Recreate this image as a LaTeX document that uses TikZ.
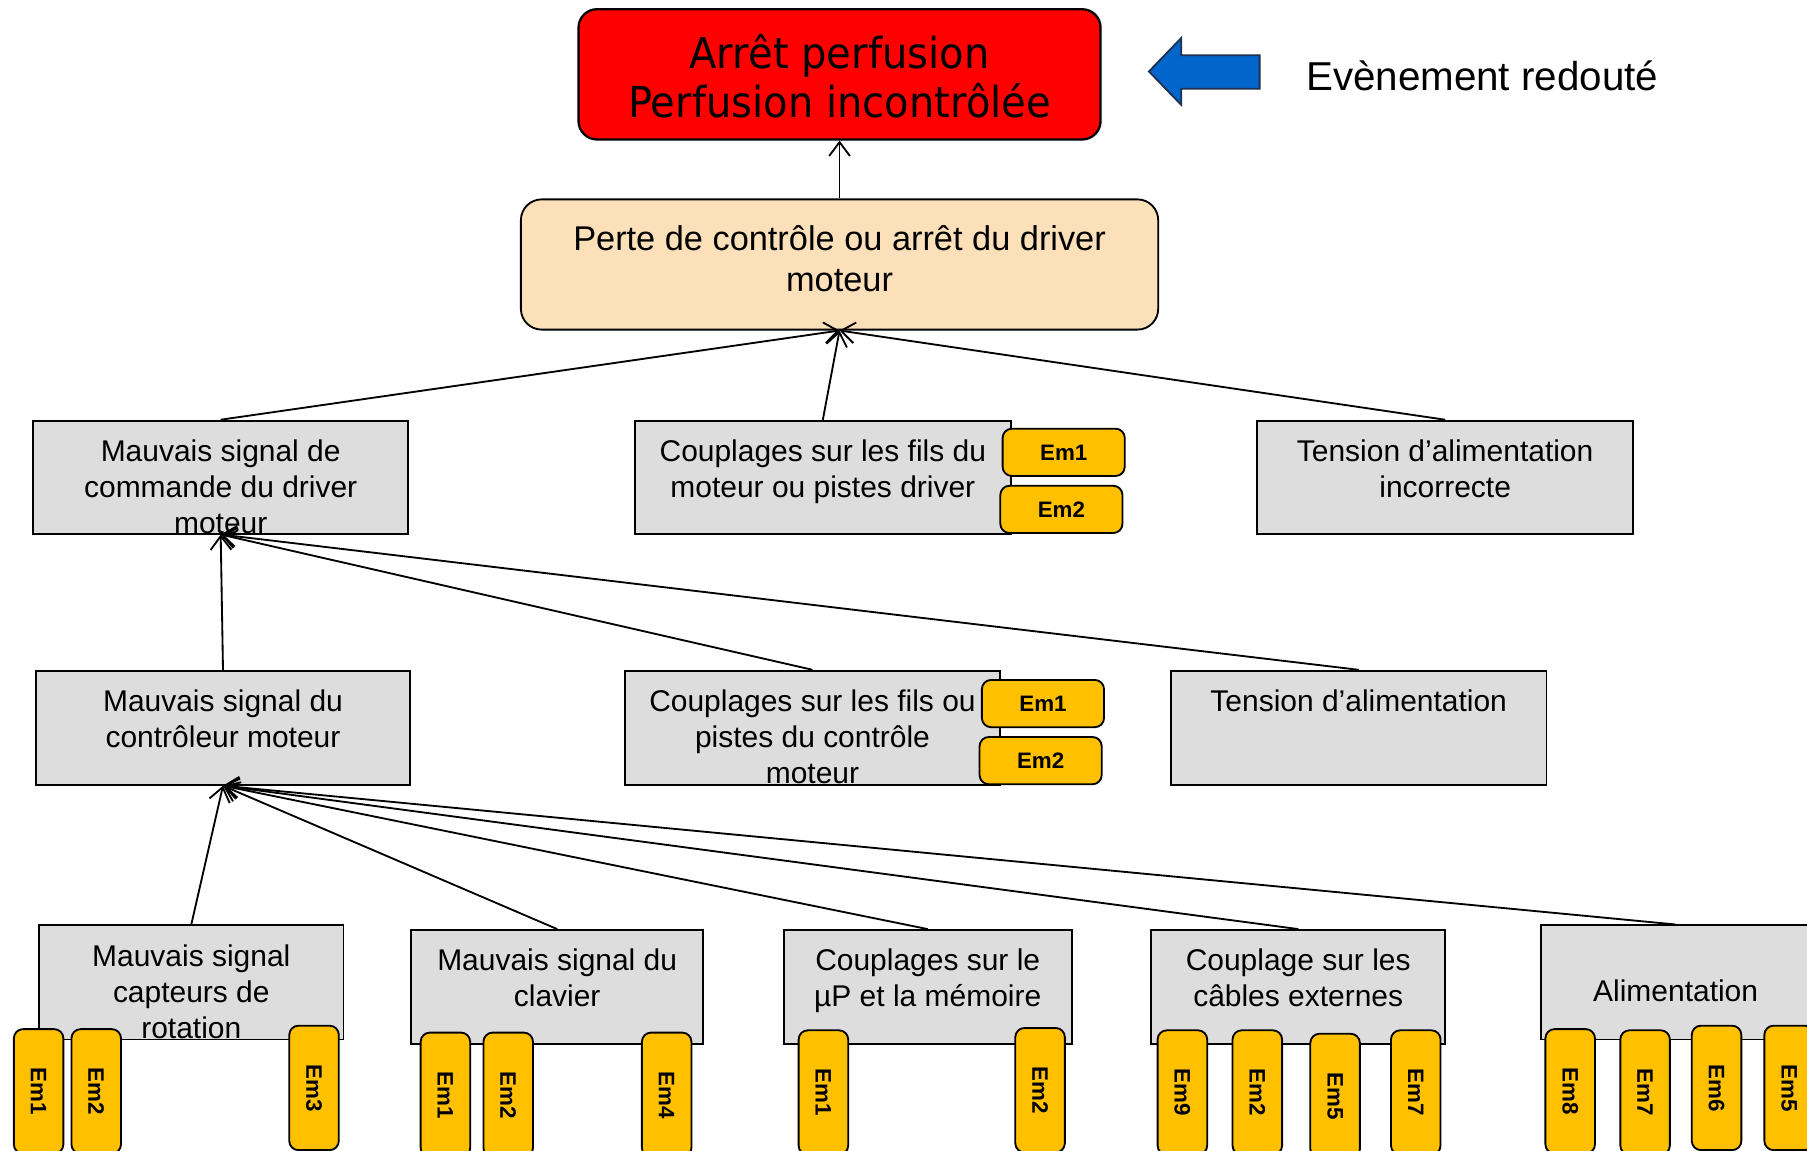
\documentclass[tikz,border=0pt]{standalone}
\usepackage{fontspec}
\setmainfont{Liberation Sans}
\newfontfamily\redfont[FakeStretch=0.94]{DejaVu Sans}
\usetikzlibrary{arrows.meta,fit}
\definecolor{gboxc}{HTML}{DDDDDD}
\definecolor{peach}{HTML}{FCE0BA}
\definecolor{emc}{HTML}{FFC000}
\definecolor{bluec}{HTML}{0066CC}
\definecolor{navy}{HTML}{1F3050}
\newcommand\emvbox[4]{\node[emv] (#1) at (#2,#3+54) {#4};}
\begin{document}
\begin{tikzpicture}[x=0.5pt,y=-0.5pt,
  gbox/.style={draw=black, line width=0.8pt, fill=gboxc, inner sep=0pt},
  gtext/.style={anchor=north, inner sep=0pt, align=center, font=\fontsize{13}{15.6}\selectfont},
  emh/.style={draw=black, line width=0.8pt, fill=emc, rounded corners=4pt, inner sep=0pt, font=\fontsize{9.7}{11}\selectfont\bfseries},
  emhb/.style={emh, minimum width=53pt, minimum height=20.5pt},
  emv/.style={emh, rotate=-90, minimum width=54pt, minimum height=21.5pt},
  arr/.style={line width=0.8pt, -{Straight Barb[length=6pt,width=9pt]}}]
\useasboundingbox (0,0) rectangle (1568,998);
\clip (0,0) rectangle (1568,998);
\fill[white] (0,0) rectangle (1568,998);

% top event
\node[draw=black, line width=1pt, fill=red, rounded corners=8pt, inner sep=0pt,
      fit={(502,8) (955,121)}] (R) {};
\node[inner sep=0pt, align=center, font=\redfont\fontsize{18.5}{21}\selectfont]
      (Rt) at ([yshift=-0.75pt]R.center) {Arrêt perfusion\\Perfusion incontrôlée};
\draw[line width=0.8pt, draw=navy, fill=bluec] (997,62) -- (1025,33) -- (1025,48) -- (1093,48)
   -- (1093,77) -- (1025,77) -- (1025,91) -- cycle;
\node[anchor=west, inner sep=0pt, font=\fontsize{17.5}{21}\selectfont] (ev) at (1133,66) {Evènement redouté};

% level 1
\node[draw=black, line width=0.8pt, fill=peach, rounded corners=9pt, inner sep=0pt,
      fit={(452,173) (1005,286)}] (P) {};
\node[inner sep=0pt, align=center, font=\fontsize{14.9}{17.8}\selectfont]
      (Pt) at ([yshift=2.5pt]P.center) {Perte de contrôle ou arrêt du driver\\moteur};

% level 2
\node[gbox, fit={(29,365) (354,463)}] (A) {};
\node[gtext] (At) at ([yshift=-8.5pt]A.north) {Mauvais signal de\\commande du driver\\moteur};
\node[gbox, fit={(551,365) (877,463)}] (B) {};
\node[gtext] (Bt) at ([yshift=-8.5pt]B.north) {Couplages sur les fils du\\moteur ou pistes driver};
\node[emhb] (B1) at (923,392.5) {Em1};
\node[emhb] (B2) at (921,442) {Em2};
\node[gbox, fit={(1091,365) (1417,463)}] (C) {};
\node[gtext] (Ct) at ([yshift=-8.5pt]C.north) {Tension d’alimentation\\incorrecte};

% level 3
\node[gbox, fit={(31,582) (356,681)}] (D) {};
\node[gtext] (Dt) at ([yshift=-8.5pt]D.north) {Mauvais signal du\\contrôleur moteur};
\node[gbox, fit={(542,582) (868,681)}] (E) {};
\node[gtext] (Et) at ([yshift=-8.5pt]E.north) {Couplages sur les fils ou\\pistes du contrôle\\moteur};
\node[emhb] (E1) at (905,610.5) {Em1};
\node[emhb] (E2) at (903,660) {Em2};
\node[gbox, fit={(1016,582) (1342,681)}] (F) {};
\node[gtext] (Ft) at ([yshift=-8.5pt]F.north) {Tension d’alimentation};

% level 4
\node[gbox, fit={(34,803) (298,902)}] (G) {};
\node[gtext] (Gt) at ([yshift=-8.5pt]G.north) {Mauvais signal\\capteurs de\\rotation};
\node[gbox, fit={(357,807) (610,906)}] (H) {};
\node[gtext] (Ht) at ([yshift=-8.5pt]H.north) {Mauvais signal du\\clavier};
\node[gbox, fit={(680,807) (930,906)}] (I) {};
\node[gtext] (It) at ([yshift=-8.5pt]I.north) {Couplages sur le\\µP et la mémoire};
\node[gbox, fit={(999,807) (1254,906)}] (J) {};
\node[gtext] (Jt) at ([yshift=-8.5pt]J.north) {Couplage sur les\\câbles externes};
\node[gbox, fit={(1337,803) (1571,902)}] (K) {};
\node[gtext, anchor=center] (Kt) at (1454,860) {Alimentation};

\emvbox{G1}{33.5}{893}{Em1}
\emvbox{G2}{83.5}{893}{Em2}
\emvbox{G3}{272.5}{890}{Em3}
\emvbox{H1}{386.5}{896}{Em1}
\emvbox{H2}{441}{896}{Em2}
\emvbox{H4}{578.5}{896}{Em4}
\emvbox{I1}{714.5}{894}{Em1}
\emvbox{I2}{902.5}{892}{Em2}
\emvbox{J9}{1026}{894}{Em9}
\emvbox{J2}{1091}{894}{Em2}
\emvbox{J5}{1158.5}{897}{Em5}
\emvbox{J7}{1228.5}{894}{Em7}
\emvbox{K8}{1362.5}{893}{Em8}
\emvbox{K7}{1427.5}{894}{Em7}
\emvbox{K6}{1489.5}{890}{Em6}
\emvbox{K5}{1552.5}{890}{Em5}

% connectors
\draw[arr] (P.north) -- (R.south);
\draw[arr] (A.north) -- (P.south);
\draw[arr] (B.north) -- (P.south);
\draw[arr] (C.north) -- (P.south);
\draw[arr] (D.north) -- (A.south);
\draw[arr] (E.north) -- (A.south);
\draw[arr] (F.north) -- (A.south);
\draw[arr] (G.north) -- (D.south);
\draw[arr] (H.north) -- (D.south);
\draw[arr] (I.north) -- (D.south);
\draw[arr] (J.north) -- (D.south);
\draw[arr] (K.north) -- (D.south);
\end{tikzpicture}
\end{document}
